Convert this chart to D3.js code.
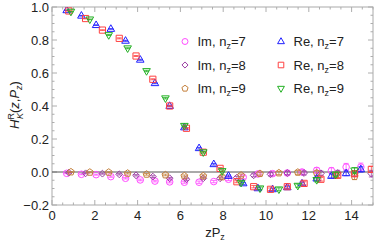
<!DOCTYPE html>
<html>
<head>
<meta charset="utf-8">
<script src="https://cdn.jsdelivr.net/npm/d3@7"></script>
<style>
  body { margin: 0; background: #fff; }
  text { font-family: "Liberation Sans", Arial, sans-serif; }
</style>
</head>
<body>
<div id="chart"></div>
<script>
// Lattice momentum unit 2*pi/L, L = 64; zPz = z * nz * unit
var momentumUnit = 2 * Math.PI / 64;

// Re parts, z = 1, 2, 3, ...
var reN7 = [0.98, 0.947, 0.89, 0.867, 0.795, 0.68, 0.538, 0.40, 0.27, 0.144, 0.047, -0.024, -0.069, -0.099, -0.105, -0.093, -0.07, -0.04, -0.024, -0.008, 0.016];
var reN8 = [0.976, 0.93, 0.86, 0.81, 0.703, 0.562, 0.40, 0.265, 0.12, 0.022, -0.059, -0.089, -0.105, -0.089, -0.069, -0.044, -0.02, -0.01, 0.016];
var reN9 = [0.972, 0.925, 0.83, 0.75, 0.612, 0.447, 0.28, 0.12, 0.006, -0.065, -0.099, -0.105, -0.083, -0.048, -0.015, 0.01];

// Im parts
var imN7 = [-0.008, -0.014, -0.016, -0.028, -0.038, -0.048, -0.055, -0.06, -0.062, -0.062, -0.058, -0.044, -0.032, -0.012, -0.01, -0.006, 0.0, 0.01, 0.008, 0.03, 0.03];
var imN8 = [-0.004, -0.008, -0.01, -0.014, -0.02, -0.028, -0.038, -0.044, -0.038, -0.038, -0.034, -0.02, -0.014, -0.006, -0.006, -0.008, -0.006, -0.01, -0.01];
var imN9 = [0.0, -0.002, -0.002, -0.008, -0.014, -0.018, -0.024, -0.024, -0.03, -0.02, -0.01, -0.006, -0.002, -0.006, -0.02, -0.028];

// Error bars
var reErrN7 = [0.001, 0.002, 0.002, 0.002, 0.003, 0.003, 0.003, 0.004, 0.004, 0.005, 0.005, 0.006, 0.006, 0.007, 0.007, 0.008, 0.009, 0.01, 0.012, 0.014, 0.016];
var reErrN8 = [0.001, 0.002, 0.002, 0.003, 0.003, 0.003, 0.004, 0.004, 0.005, 0.005, 0.006, 0.007, 0.008, 0.009, 0.01, 0.011, 0.013, 0.015, 0.018];
var reErrN9 = [0.002, 0.002, 0.003, 0.003, 0.004, 0.004, 0.005, 0.005, 0.006, 0.007, 0.008, 0.009, 0.01, 0.012, 0.014, 0.017];
var imErrN7 = [0.002, 0.003, 0.003, 0.004, 0.004, 0.005, 0.005, 0.006, 0.006, 0.007, 0.007, 0.008, 0.009, 0.01, 0.011, 0.012, 0.014, 0.016, 0.018, 0.022, 0.024];
var imErrN8 = [0.002, 0.003, 0.003, 0.004, 0.004, 0.005, 0.005, 0.006, 0.006, 0.007, 0.008, 0.009, 0.01, 0.011, 0.012, 0.014, 0.016, 0.018, 0.02];
var imErrN9 = [0.002, 0.003, 0.003, 0.004, 0.005, 0.005, 0.006, 0.007, 0.007, 0.008, 0.009, 0.01, 0.012, 0.014, 0.016, 0.018];

var legendLabels = ["Im, n", "Im, n", "Im, n", "Re, n", "Re, n", "Re, n"];

var series = [
  { nz: 7, values: imN7, errors: imErrN7, shape: "circle",   color: "#ff4dff", part: "Im" },
  { nz: 8, values: imN8, errors: imErrN8, shape: "diamond",  color: "#9b3fa3", part: "Im" },
  { nz: 9, values: imN9, errors: imErrN9, shape: "pentagon", color: "#c47f3a", part: "Im" },
  { nz: 7, values: reN7, errors: reErrN7, shape: "triUp",    color: "#1f1fff", part: "Re" },
  { nz: 8, values: reN8, errors: reErrN8, shape: "square",   color: "#ff4040", part: "Re" },
  { nz: 9, values: reN9, errors: reErrN9, shape: "triDown",  color: "#22b022", part: "Re" }
];

var xTicks = [0, 2, 4, 6, 8, 10, 12, 14];
var yTicks = [-0.2, 0.0, 0.2, 0.4, 0.6, 0.8, 1.0];

// Sizes
var totalWidth = 374, totalHeight = 242;
var margin = { top: 7, right: 1, bottom: 37, left: 52 },
  width = totalWidth - margin.left - margin.right,
  height = totalHeight - margin.top - margin.bottom;

var svg = d3.select("#chart").append("svg")
  .attr("width", totalWidth)
  .attr("height", totalHeight);

var g = svg.append("g")
  .attr("transform", "translate(" + margin.left + "," + margin.top + ")");

var x = d3.scaleLinear().domain([0, 15]).range([0, width]);
var y = d3.scaleLinear().domain([-0.2, 1.0]).range([height, 0]);

// Marker shapes
function markerPath(shape, s) {
  s = s || 1;
  var p;
  if (shape === "circle") {
    var r = 3.3 * s;
    return "M" + (-r) + ",0A" + r + "," + r + " 0 1,0 " + r + ",0A" + r + "," + r + " 0 1,0 " + (-r) + ",0Z";
  }
  if (shape === "diamond") {
    var d = 3.4 * s;
    return "M0," + (-d) + "L" + d + ",0L0," + d + "L" + (-d) + ",0Z";
  }
  if (shape === "square") {
    var h = 3.1 * s;
    return "M" + (-h) + "," + (-h) + "H" + h + "V" + h + "H" + (-h) + "Z";
  }
  if (shape === "triUp") {
    p = [[0, -4.2], [3.8, 2.4], [-3.8, 2.4]];
  } else if (shape === "triDown") {
    p = [[0, 4.2], [3.8, -2.4], [-3.8, -2.4]];
  } else {
    p = d3.range(5).map(function(i) {
      var a = -Math.PI / 2 + i * 2 * Math.PI / 5;
      return [3.6 * Math.cos(a), 3.6 * Math.sin(a)];
    });
  }
  return "M" + p.map(function(q) { return (q[0] * s) + "," + (q[1] * s); }).join("L") + "Z";
}

// Frame ticks
var tickColor = "#999";
function drawTicks(values, isX, len) {
  values.forEach(function(v) {
    if (isX) {
      var px = x(v);
      g.append("line").attr("x1", px).attr("x2", px).attr("y1", height).attr("y2", height - len)
        .attr("stroke", tickColor).attr("stroke-width", 0.8);
      g.append("line").attr("x1", px).attr("x2", px).attr("y1", 0).attr("y2", len)
        .attr("stroke", tickColor).attr("stroke-width", 0.8);
    } else {
      var py = y(v);
      g.append("line").attr("x1", 0).attr("x2", len).attr("y1", py).attr("y2", py)
        .attr("stroke", tickColor).attr("stroke-width", 0.8);
      g.append("line").attr("x1", width).attr("x2", width - len).attr("y1", py).attr("y2", py)
        .attr("stroke", tickColor).attr("stroke-width", 0.8);
    }
  });
}
drawTicks(xTicks, true, 5);
drawTicks(d3.range(0, 15.01, 0.5).filter(function(v) { return v % 2 !== 0; }), true, 2.5);
drawTicks(yTicks, false, 5);
drawTicks(d3.range(-0.2, 1.001, 0.05).filter(function(v) {
  return Math.abs(Math.round(v * 5) - v * 5) > 1e-6;
}), false, 2.5);

// Frame
g.append("rect")
  .attr("width", width).attr("height", height)
  .attr("fill", "none").attr("stroke", "#aaa").attr("stroke-width", 1);

// Tick labels
g.selectAll(".xlab").data(xTicks).enter().append("text")
  .attr("x", function(d) { return x(d); })
  .attr("y", height + 15)
  .attr("text-anchor", "middle")
  .attr("font-size", 13)
  .attr("fill", "#222")
  .text(function(d) { return d; });

g.selectAll(".ylab").data(yTicks).enter().append("text")
  .attr("x", -3)
  .attr("y", function(d) { return y(d) + 4.5; })
  .attr("text-anchor", "end")
  .attr("font-size", 13)
  .attr("fill", "#222")
  .text(function(d) { return d3.format(".1f")(d).replace("-", "\u2212"); });

// Zero line
g.append("line")
  .attr("x1", 0).attr("x2", width)
  .attr("y1", y(0)).attr("y2", y(0))
  .attr("stroke", "#555").attr("stroke-width", 1);

// Clip
svg.append("clipPath").attr("id", "plotClip")
  .append("rect").attr("width", width).attr("height", height);

var plot = g.append("g").attr("clip-path", "url(#plotClip)");

series.forEach(function(s) {
  var pts = s.values.map(function(v, i) {
    return { zp: (i + 1) * s.nz * momentumUnit, v: v, e: s.errors[i] };
  }).filter(function(d) { return d.zp <= 15.05; });

  var grp = plot.append("g").attr("class", "series");

  var eb = grp.selectAll(".err").data(pts).enter().append("g");
  eb.append("line")
    .attr("x1", function(d) { return x(d.zp); })
    .attr("x2", function(d) { return x(d.zp); })
    .attr("y1", function(d) { return y(d.v - d.e); })
    .attr("y2", function(d) { return y(d.v + d.e); })
    .attr("stroke", s.color).attr("stroke-width", 0.8);
  [-1, 1].forEach(function(sign) {
    eb.append("line")
      .attr("x1", function(d) { return x(d.zp) - 2.5; })
      .attr("x2", function(d) { return x(d.zp) + 2.5; })
      .attr("y1", function(d) { return y(d.v + sign * d.e); })
      .attr("y2", function(d) { return y(d.v + sign * d.e); })
      .attr("stroke", s.color).attr("stroke-width", 0.8);
  });

  grp.selectAll(".pt").data(pts).enter().append("path")
    .attr("transform", function(d) { return "translate(" + x(d.zp) + "," + y(d.v) + ")"; })
    .attr("d", markerPath(s.shape))
    .attr("fill", "none")
    .attr("stroke", s.color)
    .attr("stroke-width", 1);
});

// Legend
var legend = svg.append("g");
series.forEach(function(s, i) {
  var col = Math.floor(i / 3), row = i % 3;
  var lx = 185 + col * 96, ly = 41.5 + row * 23.5;
  legend.append("path")
    .attr("transform", "translate(" + lx + "," + ly + ")")
    .attr("d", markerPath(s.shape, 0.9))
    .attr("fill", "none").attr("stroke", s.color).attr("stroke-width", 1);
  var t = legend.append("text")
    .attr("x", lx + 12.5).attr("y", ly + 4.5)
    .attr("font-size", 13).attr("fill", "#222");
  t.append("tspan").text(legendLabels[i]);
  t.append("tspan").attr("font-size", 9).attr("dy", 3).text("z");
  t.append("tspan").attr("dy", -3).text("=" + s.nz);
});

// Axis labels
var xl = svg.append("text")
  .attr("x", 215).attr("y", 237)
  .attr("text-anchor", "middle")
  .attr("font-size", 13).attr("fill", "#222");
xl.append("tspan").text("zP");
xl.append("tspan").attr("font-size", 9).attr("dy", 3).text("z");

var yl = svg.append("g").attr("transform", "translate(19,105) rotate(-90)");
var ylt = yl.append("text")
  .attr("x", 0).attr("y", 0)
  .attr("text-anchor", "middle")
  .attr("font-size", 13).attr("fill", "#222");
ylt.append("tspan").attr("font-style", "italic").text("H");
ylt.append("tspan").attr("font-size", 9).attr("dy", -5).text("R");
ylt.append("tspan").attr("font-size", 9).attr("font-style", "italic").attr("dx", -6).attr("dy", 9).text("K");
ylt.append("tspan").attr("dy", -4).text("(");
ylt.append("tspan").attr("font-style", "italic").text("z");
ylt.append("tspan").text(",");
ylt.append("tspan").attr("font-style", "italic").text("P");
ylt.append("tspan").attr("font-size", 9).attr("font-style", "italic").attr("dy", 3).text("z");
ylt.append("tspan").attr("dy", -3).text(")");
</script>
</body>
</html>
